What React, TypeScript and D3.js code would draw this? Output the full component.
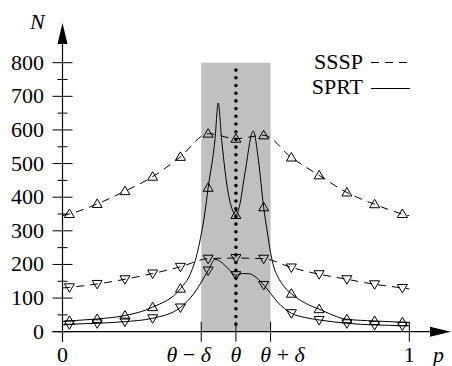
import React from "react";
import * as d3 from "d3";

// ---- data ----
const THETA = 0.5;
const DELTA = 0.1;
const yTicksMajor = [0, 100, 200, 300, 400, 500, 600, 700, 800];
const yTicksMinor = [50, 150, 250, 350, 450, 550, 650, 750];
const xTickLabels = ["0", "θ − δ", "θ", "θ + δ", "1"];
const xTickValues = [0, THETA - DELTA, THETA, THETA + DELTA, 1];

const markerP = [0.02, 0.1, 0.18, 0.26, 0.34, 0.42, 0.5, 0.58, 0.66, 0.74, 0.82, 0.9, 0.98];
const ssspUp = [350, 380, 418, 461, 520, 589, 574, 584, 518, 465, 414, 379, 350];
const ssspDown = [132, 142, 156, 173, 193, 217, 219, 217, 191, 171, 156, 141, 130];
const sprtUp = [32, 38, 48, 73, 128, 428, 347, 370, 113, 67, 37, 32, 28];
const sprtDown = [22, 25, 30, 40, 72, 182, 168, 139, 55, 35, 25, 20, 18];

const ssspUpEnds = [345, 345];
const ssspDownEnds = [130, 127];

const sprtUpCurveP = [0, 0.02, 0.1, 0.18, 0.26, 0.34, 0.37, 0.39, 0.4, 0.41, 0.42, 0.44, 0.449, 0.459, 0.478, 0.49, 0.5, 0.51, 0.526, 0.55, 0.565, 0.58, 0.59, 0.6, 0.61, 0.62, 0.64, 0.66, 0.7, 0.74, 0.82, 0.9, 0.98, 1];
const sprtUpCurveN = [30, 32, 38, 48, 73, 128, 175, 240, 290, 350, 428, 575, 680, 570, 411, 362, 347, 372, 471, 597, 510, 370, 300, 235, 190, 165, 133, 113, 85, 67, 37, 32, 28, 27];

const sprtDownCurveP = [0, 0.02, 0.1, 0.18, 0.26, 0.34, 0.38, 0.42, 0.44, 0.46, 0.48, 0.5, 0.52, 0.54, 0.56, 0.58, 0.6, 0.62, 0.66, 0.7, 0.74, 0.82, 0.9, 0.98, 1];
const sprtDownCurveN = [20, 22, 25, 30, 40, 72, 115, 182, 215, 205, 185, 168, 173, 172, 160, 139, 114, 88, 55, 42, 35, 25, 20, 18, 17];

const legendItems = ["SSSP", "SPRT"];

const FONT = "Liberation Serif";

export default function App() {
  const W = 452;
  const H = 366;
  const x = d3.scaleLinear().domain([0, 1]).range([62.5, 409.3]);
  const y = d3.scaleLinear().domain([0, 800]).range([331.7, 62.7]);

  const line = d3
    .line<[number, number]>()
    .x((d) => x(d[0]))
    .y((d) => y(d[1]))
    .curve(d3.curveMonotoneX);

  const ssspUpPts: [number, number][] = [[0, ssspUpEnds[0]], ...markerP.map((p, i) => [p, ssspUp[i]] as [number, number]), [1, ssspUpEnds[1]]];
  const ssspDownPts: [number, number][] = [[0, ssspDownEnds[0]], ...markerP.map((p, i) => [p, ssspDown[i]] as [number, number]), [1, ssspDownEnds[1]]];
  const sprtUpPts: [number, number][] = sprtUpCurveP.map((p, i) => [p, sprtUpCurveN[i]]);
  const sprtDownPts: [number, number][] = sprtDownCurveP.map((p, i) => [p, sprtDownCurveN[i]]);

  const upTri = "M0,-5L5,3.5L-5,3.5Z";
  const downTri = "M0,5L5,-3.5L-5,-3.5Z";

  const y0 = y(0);
  const x0 = x(0);

  const T = (props: any) => (
    <text fontFamily={FONT} fontSize={22} {...props} />
  );

  return (
    <svg
      width={W}
      height={H}
      style={{ position: "absolute", left: 0, top: 0, background: "#fff" }}
    >
      <style>{`text, tspan { font-family: "Liberation Serif"; }`}</style>
      {/* shaded band */}
      <rect
        x={x(THETA - DELTA)}
        y={y(800)}
        width={x(THETA + DELTA) - x(THETA - DELTA)}
        height={y(0) - y(800)}
        fill="#c0c0c0"
      />

      {/* curves */}
      <path d={line(ssspUpPts) || ""} fill="none" stroke="#000" strokeWidth={1} strokeDasharray="8 6" />
      <path d={line(ssspDownPts) || ""} fill="none" stroke="#000" strokeWidth={1} strokeDasharray="8 6" />
      <path d={line(sprtUpPts) || ""} fill="none" stroke="#000" strokeWidth={1} />
      <path d={line(sprtDownPts) || ""} fill="none" stroke="#000" strokeWidth={1} />

      {/* markers */}
      {markerP.map((p, i) => (
        <g key={"m" + i} fill="none" stroke="#000" strokeWidth={1}>
          <path d={upTri} transform={`translate(${x(p)},${y(ssspUp[i])})`} />
          <path d={downTri} transform={`translate(${x(p)},${y(ssspDown[i])})`} />
          <path d={upTri} transform={`translate(${x(p)},${y(sprtUp[i])})`} />
          <path d={downTri} transform={`translate(${x(p)},${y(sprtDown[i])})`} />
        </g>
      ))}

      {/* dotted theta line */}
      <line
        x1={x(THETA)}
        x2={x(THETA)}
        y1={y(778)}
        y2={y(22)}
        stroke="#000"
        strokeWidth={3.6}
        strokeLinecap="round"
        strokeDasharray="0 7.7"
      />

      {/* y axis */}
      <line x1={x0} x2={x0} y1={y0 + 10} y2={42} stroke="#000" strokeWidth={1.2} />
      <path d={`M${x0},23L${x0 + 5},44L${x0 - 5},44Z`} fill="#000" />
      {yTicksMajor.map((t) => (
        <g key={"ym" + t}>
          <line x1={x0 - 10} x2={x0 + 10} y1={y(t)} y2={y(t)} stroke="#000" strokeWidth={1} />
          <T x={44} y={y(t) + 7} textAnchor="end">
            {t}
          </T>
        </g>
      ))}
      {yTicksMinor.map((t) => (
        <line key={"yn" + t} x1={x0 - 5} x2={x0 + 5} y1={y(t)} y2={y(t)} stroke="#000" strokeWidth={1} />
      ))}
      <T x={30} y={29} fontStyle="italic">
        N
      </T>

      {/* x axis */}
      <line x1={x0 - 10} x2={432} y1={y0} y2={y0} stroke="#000" strokeWidth={1.2} />
      <path d={`M451,${y0}L430,${y0 - 5}L430,${y0 + 5}Z`} fill="#000" />
      {xTickValues.map((v, i) => (
        <line key={"xt" + i} x1={x(v)} x2={x(v)} y1={y0 - 10} y2={y0 + 10} stroke="#000" strokeWidth={1} />
      ))}
      {xTickLabels.map((lab, i) => {
        const v = xTickValues[i];
        const off = i === 1 ? -12.5 : i === 3 ? 12 : 0;
        const parts = lab.split(" ");
        return (
          <T key={"xl" + i} x={x(v) + off} y={362} textAnchor="middle">
            {parts.map((s, j) => (
              <tspan key={j} fontStyle={s === "θ" || s === "δ" ? "italic" : "normal"}>
                {(j > 0 ? " " : "") + s}
              </tspan>
            ))}
          </T>
        );
      })}
      <T x={433} y={362} fontStyle="italic">
        p
      </T>

      {/* legend */}
      {legendItems.map((name, i) => (
        <g key={name}>
          <T x={363} y={69 + i * 25} textAnchor="end">
            {name}
          </T>
          <line
            x1={371}
            x2={410}
            y1={62.5 + i * 26}
            y2={62.5 + i * 26}
            stroke="#000"
            strokeWidth={1}
            strokeDasharray={i === 0 ? "8 6" : undefined}
          />
        </g>
      ))}
    </svg>
  );
}
